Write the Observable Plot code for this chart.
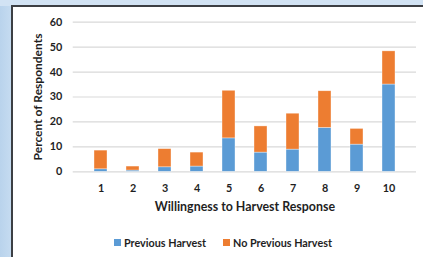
<!DOCTYPE html>
<html>
<head>
<meta charset="utf-8">
<script src="https://cdn.jsdelivr.net/npm/d3@7"></script>
<script src="https://cdn.jsdelivr.net/npm/@observablehq/plot@0.6"></script>
<style>
  html, body { margin: 0; padding: 0; }
  body { width: 423px; height: 257px; overflow: hidden; position: relative;
         background: linear-gradient(90deg, #b9d3ec 0px, #c6dcf1 12px); font-family: Lato, "Open Sans", sans-serif; }
  #topband { position: absolute; left: 0; top: 0; width: 423px; height: 6px; background: #d2e3f4; }
  #frame { position: absolute; left: 11px; top: 5px; width: 420px; height: 260px;
           background: #fff; border-left: 2px solid #3c3f44; border-top: 2px solid #3c3f44; }
  #chart { position: absolute; left: 0; top: 0; }
  #legend { position: absolute; top: 236px; left: 0; width: 423px; font: bold 10.8px Lato, sans-serif; color: #1f1f1f; }
  .item { position: absolute; display: flex; align-items: center; white-space: nowrap; }
  .sw { width: 7px; height: 7px; margin-right: 3px; display: inline-block; }
</style>
</head>
<body>
<div id="topband"></div>
<div id="frame"></div>
<div id="chart"></div>
<div id="legend"></div>
<script>
const categories = ["1","2","3","4","5","6","7","8","9","10"];
const seriesNames = ["Previous Harvest", "No Previous Harvest"];
const previousHarvest = [1.0, 0.5, 1.8, 2.1, 13.4, 7.7, 8.9, 17.6, 10.9, 35.0];
const noPreviousHarvest = [7.5, 1.6, 7.3, 5.6, 19.1, 10.5, 14.4, 14.7, 6.3, 13.3];
const yTicks = [0, 10, 20, 30, 40, 50, 60];
const colors = ["#5b9bd5", "#ed7d31"];

const rows = [];
categories.forEach((c, i) => {
  rows.push({cat: c, series: seriesNames[0], value: previousHarvest[i]});
  rows.push({cat: c, series: seriesNames[1], value: noPreviousHarvest[i]});
});

const plot = Plot.plot({
  width: 423,
  height: 222,
  marginLeft: 72.7,
  marginRight: 7,
  marginTop: 21.7,
  marginBottom: 50.7,
  style: {fontFamily: "Lato, 'Open Sans', sans-serif", fontSize: "10.8px", fontWeight: "bold", color: "#1f1f1f", background: "transparent", overflow: "visible"},
  x: {domain: categories, padding: 0.6, label: null},
  y: {domain: [0, 60], label: null},
  color: {domain: seriesNames, range: colors},
  marks: [
    Plot.ruleY(yTicks, {stroke: "#d9d9d9", strokeWidth: 1.2}),
    Plot.barY(rows, {x: "cat", y: "value", fill: "series", stroke: "#ffffff", strokeOpacity: 0.6, strokeWidth: 0.6}),
    Plot.axisY(yTicks, {tickSize: 0, tickPadding: 11, label: null}),
    Plot.axisX({tickSize: 0, tickPadding: 13, label: null}),
    Plot.text(["Willingness to Harvest Response"], {frameAnchor: "bottom", dy: 39, fontSize: 12.4, fontWeight: "bold"}),
    Plot.text(["Percent of Respondents"], {frameAnchor: "left", textAnchor: "middle", dx: -35, rotate: -90, fontSize: 12, fontWeight: "bold"})
  ]
});
document.getElementById("chart").appendChild(plot);

const legend = document.getElementById("legend");
const lx = [114, 223];
seriesNames.forEach((s, i) => {
  const item = document.createElement("div");
  item.className = "item";
  item.style.left = lx[i] + "px";
  const sw = document.createElement("span");
  sw.className = "sw";
  sw.style.background = colors[i];
  item.appendChild(sw);
  item.appendChild(document.createTextNode(s));
  legend.appendChild(item);
});
</script>
</body>
</html>
